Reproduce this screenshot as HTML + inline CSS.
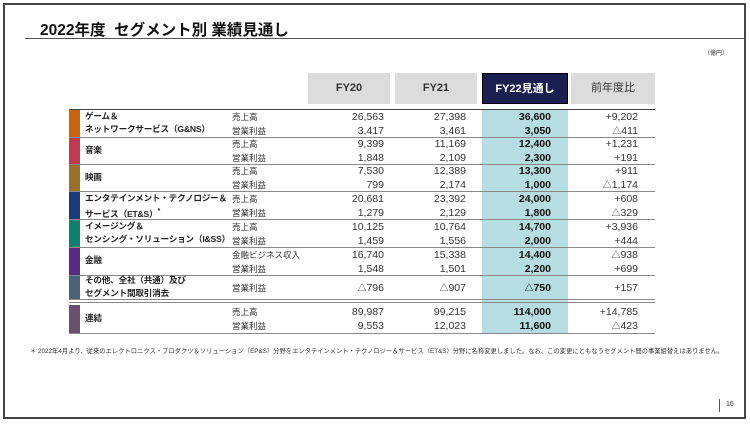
<!DOCTYPE html>
<html><head><meta charset="utf-8"><style>
body{margin:0;width:750px;height:425px;background:#fff;font-family:"Liberation Sans","Noto Sans CJK JP",sans-serif;position:relative;overflow:hidden}
.a{position:absolute;white-space:nowrap}
.frame{position:absolute;left:3px;top:3px;width:739px;height:412px;border:2px solid #444}
.h{position:absolute;top:73px;height:31px;background:#dcdcdc;font-size:11px;font-weight:bold;color:#333;text-align:center;line-height:31px}
.bar{position:absolute;left:69px;width:11px}
.lab{position:absolute;left:85px;font-size:8.6px;font-weight:bold;color:#222;line-height:13px;white-space:nowrap;letter-spacing:-0.2px}
.m{position:absolute;left:232px;font-size:8.5px;color:#333;line-height:13px;white-space:nowrap}
.v{position:absolute;font-size:10.5px;color:#333;text-align:right;width:80px;line-height:13px;height:13px}
.b{font-weight:bold;color:#111}
.ln{position:absolute;left:69px;width:586px;height:1px;background:#888}
</style></head><body>
<div class="frame"></div>
<div class="a" style="left:40px;top:18px;font-size:15.5px;font-weight:bold;color:#111">2022年度&nbsp; セグメント別 業績見通し</div>
<div class="a" style="left:25px;top:38px;width:720px;height:1px;background:#555"></div>
<div class="a" style="left:704px;top:48px;font-size:6px;color:#333">（億円）</div>
<div class="h" style="left:308px;width:82px">FY20</div>
<div class="h" style="left:395px;width:82px">FY21</div>
<div class="h" style="left:482px;width:86px;background:#1a1f4f;color:#fff;border:1px solid #000;box-sizing:border-box">FY22見通し</div>
<div class="h" style="left:571px;width:84px;font-weight:normal">前年度比</div>
<div class="a" style="left:482px;top:109px;width:86px;height:224px;background:#b6dde2"></div>
<div class="bar" style="top:109px;height:28px;background:#c8650a"></div>
<div class="bar" style="top:137px;height:27px;background:#c0394e"></div>
<div class="bar" style="top:164px;height:27px;background:#9a7028"></div>
<div class="bar" style="top:191px;height:28px;background:#1a3a7a"></div>
<div class="bar" style="top:219px;height:28px;background:#0e8070"></div>
<div class="bar" style="top:247px;height:28px;background:#5a2a8a"></div>
<div class="bar" style="top:275px;height:24px;background:#4a6378"></div>
<div class="bar" style="top:305px;height:28px;background:#6a5070"></div>
<div class="ln" style="top:109px;background:#444"></div>
<div class="ln" style="top:137px"></div><div class="ln" style="top:164px"></div>
<div class="ln" style="top:191px"></div><div class="ln" style="top:219px"></div>
<div class="ln" style="top:247px"></div><div class="ln" style="top:275px"></div>
<div class="ln" style="top:299px"></div><div class="ln" style="top:302px"></div>
<div class="ln" style="top:333px"></div>
<div class="lab" style="top:110px">ゲーム＆<br>ネットワークサービス（G&amp;NS）</div>
<div class="lab" style="top:144px">音楽</div>
<div class="lab" style="top:171px">映画</div>
<div class="lab" style="top:192px">エンタテインメント・テクノロジー＆<br>サービス（ET&amp;S）<sup style="font-size:7px">*</sup></div>
<div class="lab" style="top:220px">イメージング＆<br>センシング・ソリューション（I&amp;SS）</div>
<div class="lab" style="top:254px">金融</div>
<div class="lab" style="top:274px">その他、全社（共通）及び<br>セグメント間取引消去</div>
<div class="lab" style="top:312px">連結</div>
<div id="rows"></div>
<div class="a" style="left:30px;top:346px;font-size:6.3px;color:#333">＊ 2022年4月より、従来のエレクトロニクス・プロダクツ＆ソリューション（EP&amp;S）分野をエンタテインメント・テクノロジー＆サービス（ET&amp;S）分野に名称変更しました。なお、この変更にともなうセグメント間の事業組替えはありません。</div>
<div class="a" style="left:719px;top:399px;width:1px;height:13px;background:#555"></div>
<div class="a" style="left:726px;top:401px;font-size:7px;color:#333">16</div>
<script>
var R=[[110,"売上高","26,563","27,398","36,600","+9,202"],[124,"営業利益","3,417","3,461","3,050","△411"],
[137,"売上高","9,399","11,169","12,400","+1,231"],[151,"営業利益","1,848","2,109","2,300","+191"],
[164,"売上高","7,530","12,389","13,300","+911"],[178,"営業利益","799","2,174","1,000","△1,174"],
[192,"売上高","20,681","23,392","24,000","+608"],[206,"営業利益","1,279","2,129","1,800","△329"],
[220,"売上高","10,125","10,764","14,700","+3,936"],[234,"営業利益","1,459","1,556","2,000","+444"],
[248,"金融ビジネス収入","16,740","15,338","14,400","△938"],[262,"営業利益","1,548","1,501","2,200","+699"],
[281,"営業利益","△796","△907","△750","+157"],
[305,"売上高","89,987","99,215","114,000","+14,785"],[319,"営業利益","9,553","12,023","11,600","△423"]];
function f(s){return s.replace("△",'<span style="font-size:9px">△</span>');}
var h="";R.forEach(function(r){var t=r[0]+1;
h+='<div class="m" style="top:'+t+'px">'+r[1]+'</div>';
h+='<div class="v" style="left:304px;top:'+t+'px">'+f(r[2])+'</div>';
h+='<div class="v" style="left:386px;top:'+t+'px">'+f(r[3])+'</div>';
h+='<div class="v b" style="left:471px;top:'+t+'px">'+f(r[4])+'</div>';
h+='<div class="v" style="left:558px;top:'+t+'px">'+f(r[5])+'</div>';});
document.getElementById("rows").innerHTML=h;
</script>
</body></html>
